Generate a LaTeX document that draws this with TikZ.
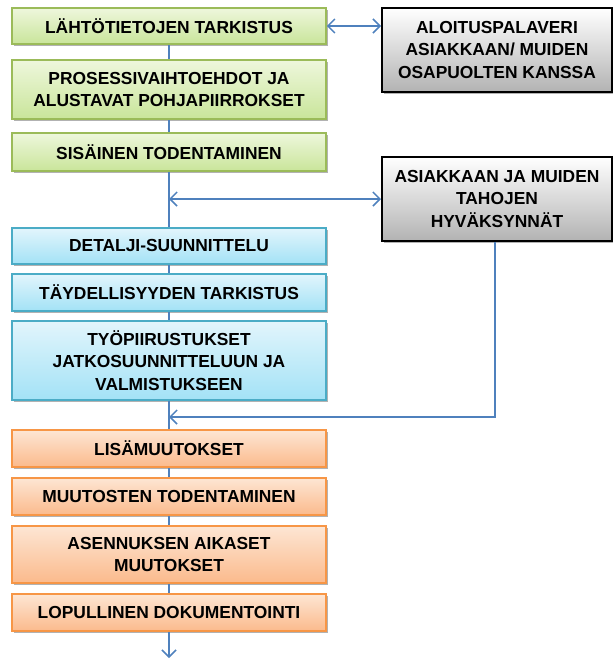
\documentclass[tikz,border=0pt]{standalone}
\usepackage{fontspec}
\setmainfont{Liberation Sans}
\usetikzlibrary{arrows.meta,shadows,calc}
\definecolor{gbord}{HTML}{9BBB59}
\definecolor{gtop}{HTML}{EEF7DC}
\definecolor{gbot}{HTML}{C9E59A}
\definecolor{bbord}{HTML}{4BACC6}
\definecolor{btop}{HTML}{E2F5FC}
\definecolor{bbot}{HTML}{A3E2F6}
\definecolor{obord}{HTML}{F79646}
\definecolor{otop}{HTML}{FDE6D4}
\definecolor{obot}{HTML}{FBBA8C}
\definecolor{linec}{HTML}{4F81BD}
\begin{document}
\begin{tikzpicture}[x=1pt,y=-1pt,
  boxbase/.style={rectangle, line width=1.5pt, align=center,
    font=\fontsize{17.4}{22.5}\selectfont\bfseries, inner sep=0pt,
    drop shadow={shadow xshift=2pt, shadow yshift=-2pt, opacity=0.3, fill=black}},
  gbox/.style={boxbase, draw=gbord, top color=gtop, bottom color=gbot, minimum width=314pt},
  bbox/.style={boxbase, draw=bbord, top color=btop, bottom color=bbot, minimum width=314pt},
  obox/.style={boxbase, draw=obord, top color=otop, bottom color=obot, minimum width=314pt},
  kbox/.style={boxbase, draw=black, line width=2pt, top color=white, bottom color=black!30, minimum width=230pt, minimum height=84pt},
  conn/.style={draw=linec, line width=1.5pt},
  arr/.style={conn, -{Straight Barb[length=7pt,width=14pt,line width=1.5pt]}},
  darr/.style={conn, {Straight Barb[length=7pt,width=14pt,line width=1.5pt]}-{Straight Barb[length=7pt,width=14pt,line width=1.5pt]}}
]
\useasboundingbox (0,0) rectangle (613,659);
% boxes
\node[gbox, minimum height=36pt] (g1) at (169,26) {LÄHTÖTIETOJEN TARKISTUS};
\node[gbox, minimum height=59pt] (g2) at (169,89.5) {PROSESSIVAIHTOEHDOT JA\\ALUSTAVAT POHJAPIIRROKSET};
\node[gbox, minimum height=38pt] (g3) at (169,152) {SISÄINEN TODENTAMINEN};
\node[bbox, minimum height=36pt] (b1) at (169,246) {DETALJI-SUUNNITTELU};
\node[bbox, minimum height=37pt] (b2) at (169,292.5) {TÄYDELLISYYDEN TARKISTUS};
\node[bbox, minimum height=79pt] (b3) at (169,360.5) {TYÖPIIRUSTUKSET\\JATKOSUUNNITTELUUN JA\\VALMISTUKSEEN};
\node[obox, minimum height=37pt] (o1) at (169,448.5) {LISÄMUUTOKSET};
\node[obox, minimum height=37pt] (o2) at (169,496.5) {MUUTOSTEN TODENTAMINEN};
\node[obox, minimum height=57pt] (o3) at (169,554.5) {ASENNUKSEN AIKASET\\MUUTOKSET};
\node[obox, minimum height=37pt] (o4) at (169,612.5) {LOPULLINEN DOKUMENTOINTI};
\node[kbox] (k1) at (497,50) {ALOITUSPALAVERI\\ASIAKKAAN/ MUIDEN\\OSAPUOLTEN KANSSA};
\node[kbox] (k2) at (497,199) {ASIAKKAAN JA MUIDEN\\TAHOJEN\\HYVÄKSYNNÄT};
% vertical flow
\coordinate (endpt) at (169,658);
\coordinate (ret) at (169,417);
\path[conn] (g1.south) -- (g2.north);
\path[conn] (g2.south) -- (g3.north);
\path[conn] (g3.south) -- (b1.north);
\path[conn] (b1.south) -- (b2.north);
\path[conn] (b2.south) -- (b3.north);
\path[conn] (b3.south) -- (o1.north);
\path[conn] (o1.south) -- (o2.north);
\path[conn] (o2.south) -- (o3.north);
\path[conn] (o3.south) -- (o4.north);
\path[arr] (o4.south) -- (endpt);
% side connectors
\path[darr] (g1.east) -- (g1.east -| k1.west);
\path[darr] (g3.south |- k2.west) -- (k2.west);
\path[arr] ([xshift=-2pt]k2.south) |- (ret);
\end{tikzpicture}
\end{document}
